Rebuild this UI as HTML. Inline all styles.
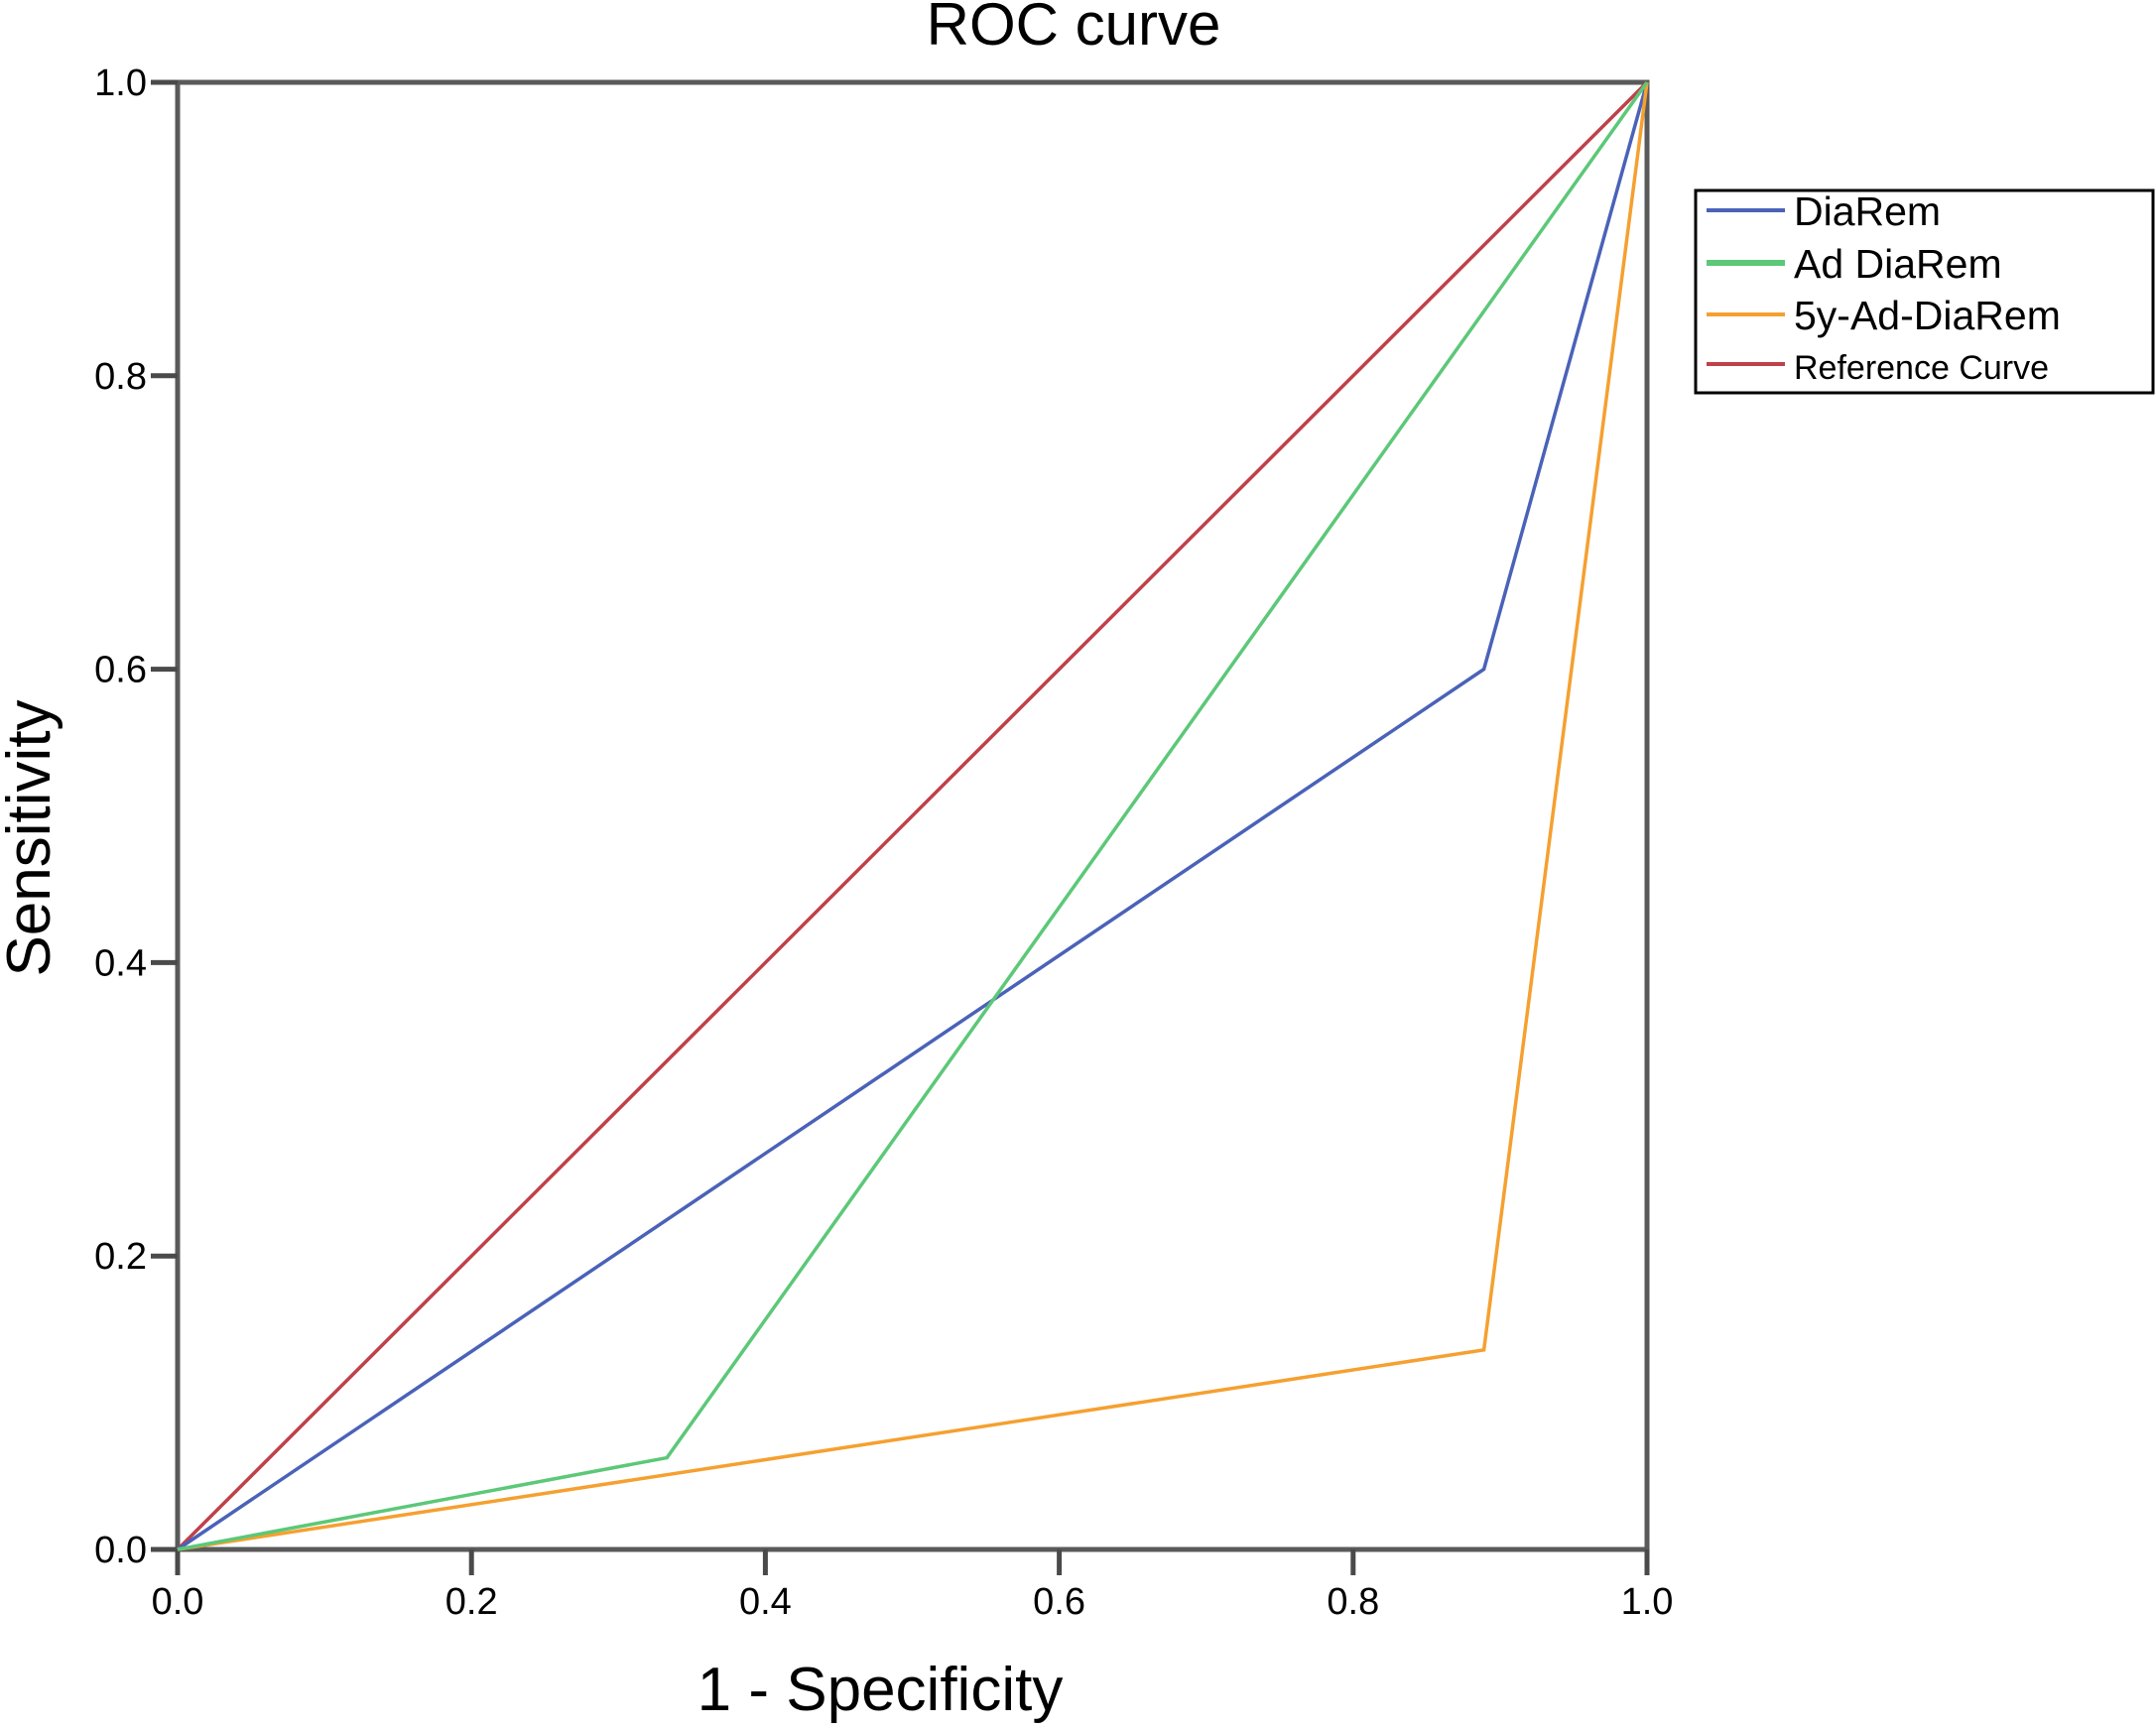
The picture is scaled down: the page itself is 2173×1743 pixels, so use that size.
<!DOCTYPE html>
<html><head><meta charset="utf-8"><style>
html,body{margin:0;padding:0;background:#fff;}
svg{display:block;font-family:"Liberation Sans",Arial,sans-serif;}
</style></head><body>
<svg id="chart" width="2173" height="1743" viewBox="0 0 2173 1743">
<text x="1082" y="45" font-size="60" text-anchor="middle">ROC curve</text>
<g id="axes"></g>
<g id="series"></g>
<text x="887" y="1724" font-size="62" text-anchor="middle">1 - Specificity</text>
<text transform="translate(50,845) rotate(-90)" font-size="62" text-anchor="middle">Sensitivity</text>
<g>
<rect x="1709" y="192" width="461" height="204" fill="#fff" stroke="#000" stroke-width="3"/>
<g id="legend-items"></g>
</g>
</svg>
<script>
const ticks=[0,0.2,0.4,0.6,0.8,1.0];
const tickLabels=["0.0","0.2","0.4","0.6","0.8","1.0"];
const seriesNames=["DiaRem","Ad DiaRem","5y-Ad-DiaRem","Reference Curve"];
const diaremX=[0,0.889,1];
const diaremY=[0,0.6,1];
const adDiaremX=[0,0.333,1];
const adDiaremY=[0,0.0625,1];
const fiveYX=[0,0.889,1];
const fiveYY=[0,0.136,1];
const refX=[0,1];
const refY=[0,1];
const L=179,R=1660,T=83,B=1562;
const sx=v=>L+v*(R-L), sy=v=>B-v*(B-T);
const NS="http://www.w3.org/2000/svg";
function mk(tag,attrs,parent){const e=document.createElementNS(NS,tag);for(const k in attrs)e.setAttribute(k,attrs[k]);parent.appendChild(e);return e;}
const axes=document.getElementById('axes');
const frame=mk('rect',{x:L,y:T,width:R-L,height:B-T,fill:'none',stroke:'#5a5a5a','stroke-width':5},axes);


ticks.forEach((t,i)=>{
  const xt=mk('line',{x1:sx(t),x2:sx(t),y1:B,y2:B+26,stroke:'#4a4a4a','stroke-width':5},axes);
  
  
  const xl=mk('text',{x:sx(t),y:1627,'font-size':38,'text-anchor':'middle'},axes);
  xl.textContent=tickLabels[i];
  
  
  const yt=mk('line',{x1:L-27,x2:L,y1:sy(t),y2:sy(t),stroke:'#4a4a4a','stroke-width':5},axes);
  
  
  const yl=mk('text',{x:148,y:sy(t)+13,'font-size':38,'text-anchor':'end'},axes);
  yl.textContent=tickLabels[i];
  
  
});
const ser=document.getElementById('series');
const defs=[[refX,refY,'#c0404a','reference-curve'],[diaremX,diaremY,'#4a62b8','diarem-line'],[fiveYX,fiveYY,'#f5a030','5y-ad-diarem-line'],[adDiaremX,adDiaremY,'#5cc878','ad-diarem-line']];
defs.forEach(d=>{
  const pts=d[0].map((x,i)=>sx(x)+','+sy(d[1][i])).join(' ');
  const p=mk('polyline',{points:pts,fill:'none',stroke:d[2],'stroke-width':3.5},ser);
  
  
});
const colors=['#4a62b8','#5cc878','#f5a030','#c0404a'];
const lg=document.getElementById('legend-items');
const rowsY=[214,267,319,369];
seriesNames.forEach((n,i)=>{
  const ln=mk('line',{x1:1720,x2:1799,y1:rowsY[i]-2,y2:rowsY[i]-2,stroke:colors[i],'stroke-width':i==1?6:4},lg);
  
  
  const tx=mk('text',{x:1808,y:rowsY[i]+13,'font-size':i==3?34:41},lg);
  tx.textContent=n;
  
  
});
</script>
</body></html>
